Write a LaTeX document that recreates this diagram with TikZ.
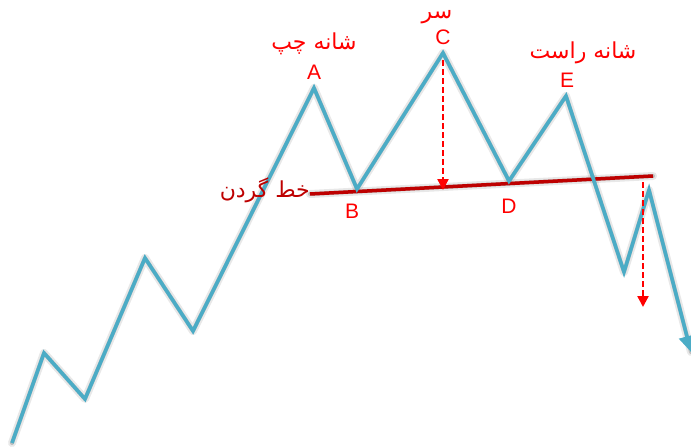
\documentclass[tikz,border=0pt]{standalone}
\usepackage{fontspec}
\setmainfont{Liberation Sans}
\newfontfamily\arabicfont[Script=Arabic]{DejaVu Sans}
\usetikzlibrary{arrows.meta}
\TeXXeTstate=1
\definecolor{trend}{RGB}{75,172,198}
\definecolor{neck}{RGB}{190,0,0}
\definecolor{lbl}{RGB}{255,0,0}
\begin{document}
\begin{tikzpicture}[x=1pt,y=-1pt,
  pricepath/.style={draw=trend,line width=3.6pt,line join=miter},
  shadowA/.style={draw=black,opacity=0.09,line width=8pt,line join=round,line cap=round},
  shadowB/.style={draw=black,opacity=0.17,line width=4pt,line join=round,line cap=round},
  neckline/.style={draw=neck,line width=3.5pt},
  target/.style={draw=lbl,line width=2.4pt,dash pattern=on 6pt off 3pt,-{Triangle[length=11pt,width=11pt]}},
  letter/.style={text=lbl,font=\fontsize{21}{21}\selectfont,inner sep=0pt},
  arlabel/.style={text=lbl,font=\arabicfont\fontsize{22}{22}\selectfont,inner sep=0pt},
]
\useasboundingbox (0,0) rectangle (691,447);
\fill[white] (0,0) rectangle (691,447);
% points
\coordinate (p0) at (12,443);
\coordinate (p1) at (44,353);
\coordinate (p2) at (85,399);
\coordinate (p3) at (145,258);
\coordinate (p4) at (193,331);
\coordinate (A) at (314,88);
\coordinate (B) at (357,189);
\coordinate (C) at (443,53);
\coordinate (D) at (509,181);
\coordinate (E) at (566,96);
\coordinate (F) at (624,272);
\coordinate (G) at (649,190);
\coordinate (end) at (691,352);
\coordinate (n0) at (310,194);
\coordinate (n1) at (653,176);
\coordinate (c0) at (443,60);
\coordinate (c1) at (443,190);
\coordinate (g0) at (643,182);
\coordinate (g1) at (643,307);
% shadows
\begin{scope}[shift={(4,6)}]
\draw[shadowA] (p0)--(p1)--(p2)--(p3)--(p4)--(A)--(B)--(C)--(D)--(E)--(F)--(G)--(end);
\draw[shadowB] (p0)--(p1)--(p2)--(p3)--(p4)--(A)--(B)--(C)--(D)--(E)--(F)--(G)--(end);
\draw[shadowA] (n0)--(n1);
\draw[shadowB] (n0)--(n1);
\end{scope}
% neckline
\draw[neckline] (n0) -- (n1);
% price path
\draw[pricepath,-{Triangle[length=16pt,width=16pt]}] (p0)--(p1)--(p2)--(p3)--(p4)--(A)--(B)--(C)--(D)--(E)--(F)--(G)--(end);
% target arrows
\draw[target] (c0) -- (c1);
\draw[target] (g0) -- (g1);
% letters
\node[letter] (lA) at (314,72) {A};
\node[letter] (lB) at (352,211) {B};
\node[letter] (lC) at (443,37) {C};
\node[letter] (lD) at (509,206) {D};
\node[letter] (lE) at (567,80) {E};
% persian labels
\node[arlabel] (tA) at (314,44) {\beginR شانه چپ\endR};
\node[arlabel] (tC) at (437,17) {\beginR سر\endR};
\node[arlabel] (tE) at (583,53) {\beginR شانه راست\endR};
\node[arlabel,text=neck,anchor=east] (tN) at (310,190) {\beginR خط گردن\endR};
\end{tikzpicture}
\end{document}
